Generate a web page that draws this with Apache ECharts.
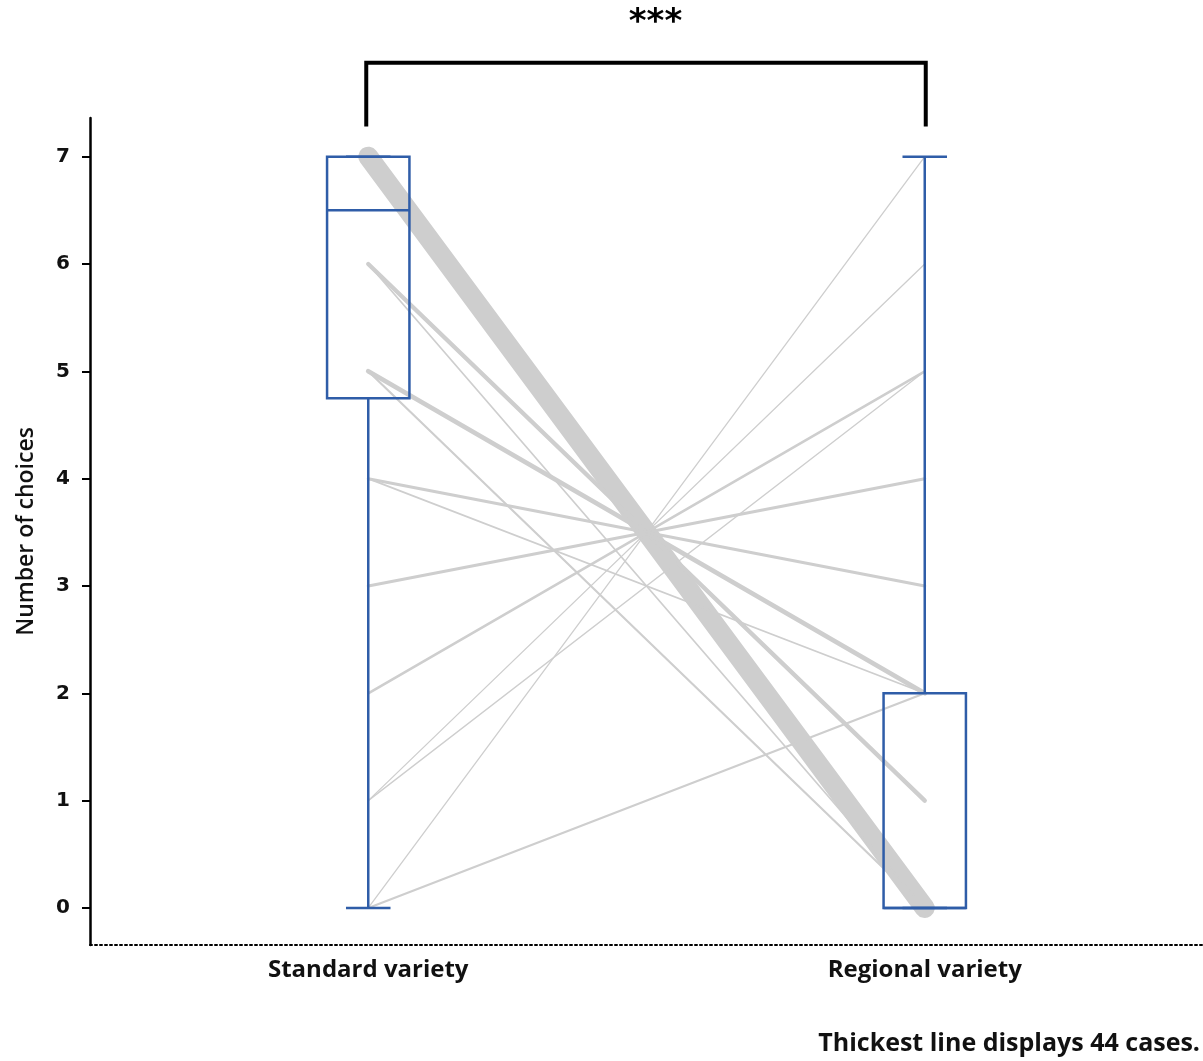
<!DOCTYPE html>
<html style="height: 100%">
<head>
    <meta charset="utf-8">
</head>
<body style="height: 100%; margin: 0; background: #fff">
    <div id="container" style="width: 1203px; height: 1061px"></div>
    <script type="text/javascript" src="https://cdn.jsdelivr.net/npm/echarts@6/dist/echarts.min.js"></script>
<script type="text/javascript">
    var categories = ['Standard variety', 'Regional variety'];
    // paired answers: value on the standard side -> value on the regional side, with number of cases
    var pairStandard = [7, 6, 6, 5, 5, 4, 4, 3, 2, 1, 1, 0, 0];
    var pairRegional = [0, 1, 0, 2, 0, 3, 2, 4, 5, 6, 5, 7, 2];
    var pairCases    = [44, 8, 2, 9, 3, 5, 2, 5, 4, 1, 1, 1, 3];
    // box stats: min, Q1, median, Q3, max
    var boxStandard = [0, 4.75, 6.5, 7, 7];
    var boxRegional = [0, 0, 0, 2, 7];
    var yTicks = [0, 1, 2, 3, 4, 5, 6, 7];

    var dom = document.getElementById('container');
    var myChart = echarts.init(dom);

    var blue = '#2f5da8';
    var series = [];

    // gray connecting lines, width grows with the number of cases
    for (var i = 0; i < pairCases.length; i++) {
        var w = 1.3 + (pairCases[i] - 1) * 18.7 / 43;
        series.push({
            type: 'line',
            data: [[0, pairStandard[i]], [1, pairRegional[i]]],
            symbol: 'none',
            silent: true,
            z: 2,
            lineStyle: {color: '#cecece', width: w, cap: 'round'}
        });
    }

    // box plots
    series.push({
        type: 'custom',
        z: 5,
        silent: true,
        data: [[0].concat(boxStandard), [1].concat(boxRegional)],
        renderItem: function (params, api) {
            var x = api.coord([api.value(0), 0])[0];
            var band = api.size([1, 0])[0];
            var half = band * 0.074;
            var capHalf = band * 0.04;
            var y = [1, 2, 3, 4, 5].map(function (k) { return api.coord([0, api.value(k)])[1]; });
            var st = {stroke: blue, lineWidth: 2.5, fill: null};
            return {
                type: 'group',
                children: [
                    {type: 'line', shape: {x1: x, y1: y[0], x2: x, y2: y[1]}, style: st},
                    {type: 'line', shape: {x1: x, y1: y[3], x2: x, y2: y[4]}, style: st},
                    {type: 'line', shape: {x1: x - capHalf, y1: y[0], x2: x + capHalf, y2: y[0]}, style: st},
                    {type: 'line', shape: {x1: x - capHalf, y1: y[4], x2: x + capHalf, y2: y[4]}, style: st},
                    {type: 'rect', shape: {x: x - half, y: y[3], width: half * 2, height: y[1] - y[3]}, style: st},
                    {type: 'line', shape: {x1: x - half, y1: y[2], x2: x + half, y2: y[2]}, style: st}
                ]
            };
        }
    });

    // significance bracket
    series.push({
        type: 'custom',
        clip: false,
        silent: true,
        z: 6,
        data: [[0, 1]],
        renderItem: function (params, api) {
            var a = api.coord([0, 7.28]);
            var b = api.coord([1, 7.28]);
            var top = api.coord([0, 7.875])[1];
            return {
                type: 'group',
                children: [
                    {type: 'polyline', shape: {points: [[a[0] - 2, a[1]], [a[0] - 2, top], [b[0] + 1, top], [b[0] + 1, b[1]]]},
                     style: {stroke: '#000', lineWidth: 4, fill: null}},
                    {type: 'text', x: (a[0] + b[0]) / 2 + 9, y: top - 40,
                     style: {text: '***', fill: '#000', font: 'bold 34px "DejaVu Sans"', align: 'center', verticalAlign: 'middle'}}
                ]
            };
        }
    });

    myChart.setOption({
        animation: false,
        grid: {left: 90, right: 0, top: 118, bottom: 116},
        xAxis: {
            type: 'category',
            data: categories,
            boundaryGap: true,
            axisLine: {onZero: false, lineStyle: {color: '#000', width: 2, type: [2, 3]}},
            axisTick: {alignWithLabel: true, length: 8, lineStyle: {color: '#000', width: 2}},
            axisLabel: {color: '#111', fontFamily: 'Open Sans', fontWeight: 'bold', fontSize: 24, margin: 13}
        },
        yAxis: {
            type: 'value',
            min: -0.345,
            max: 7.36,
            name: 'Number of choices',
            nameLocation: 'middle',
            nameGap: 52,
            nameTextStyle: {color: '#111', fontFamily: 'Open Sans', fontWeight: 600, fontSize: 23},
            splitLine: {show: false},
            axisLine: {show: true, lineStyle: {color: '#000', width: 2.5}},
            axisTick: {show: true, customValues: yTicks, length: 8, lineStyle: {color: '#000', width: 2}},
            axisLabel: {customValues: yTicks, color: '#111', fontFamily: 'DejaVu Sans', fontWeight: 'bold', fontSize: 20, margin: 20}
        },
        graphic: [{
            type: 'text',
            right: 3,
            top: 1031,
            style: {text: 'Thickest line displays 44 cases.', fill: '#111', font: 'bold 25px "Open Sans"'}
        }],
        series: series
    });
</script>
</body>
</html>
